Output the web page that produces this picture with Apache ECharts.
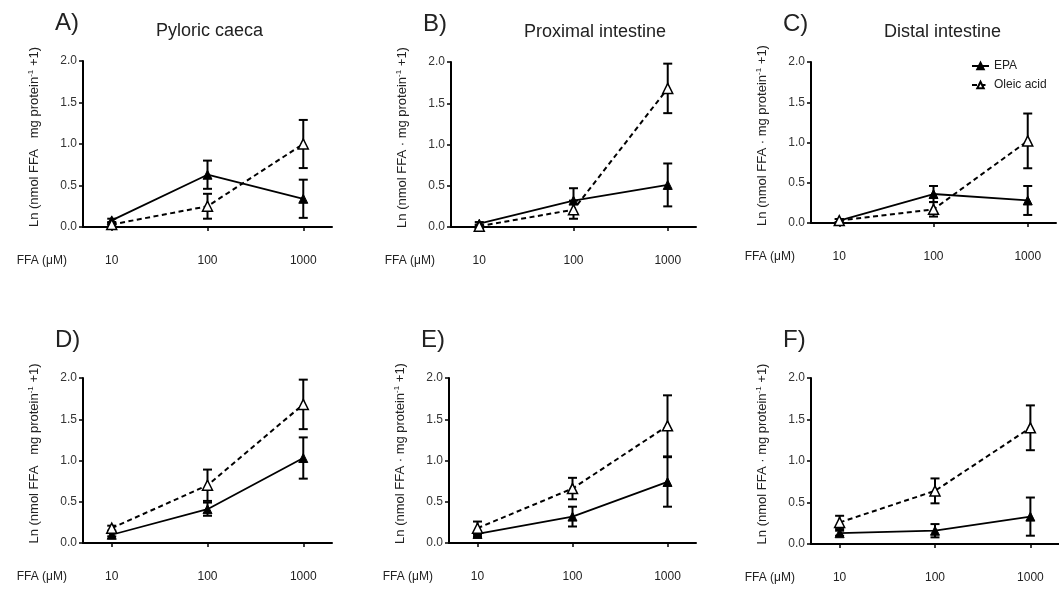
<!DOCTYPE html>
<html>
<head>
<meta charset="utf-8">
<script src="https://cdn.jsdelivr.net/npm/echarts@6/dist/echarts.min.js"></script>
<style>
html,body{margin:0;padding:0;background:#fff;}
#chart{width:1059px;height:590px;}
</style>
</head>
<body>
<div id="chart"></div>
<script>
// ---- data ----
const categories = ['10', '100', '1000'];
const yTicks = [0, 0.5, 1.0, 1.5, 2.0];
const panelLetters = ['A)', 'B)', 'C)', 'D)', 'E)', 'F)'];
const panelTitles = ['Pyloric caeca', 'Proximal intestine', 'Distal intestine', '', '', ''];
const seriesNames = ['EPA', 'Oleic acid'];

const epaA = [0.08, 0.63, 0.34];  const epaErrA = [0.02, 0.17, 0.23];
const oleA = [0.03, 0.25, 1.00];  const oleErrA = [0.02, 0.15, 0.29];
const epaB = [0.04, 0.32, 0.51];  const epaErrB = [0.02, 0.15, 0.26];
const oleB = [0.01, 0.21, 1.68];  const oleErrB = [0.02, 0.11, 0.30];
const epaC = [0.03, 0.36, 0.28];  const epaErrC = [0.02, 0.10, 0.18];
const oleC = [0.03, 0.17, 1.02];  const oleErrC = [0.02, 0.09, 0.34];
const epaD = [0.10, 0.41, 1.03];  const epaErrD = [0.02, 0.08, 0.25];
const oleD = [0.18, 0.70, 1.68];  const oleErrD = [0.03, 0.19, 0.30];
const epaE = [0.11, 0.32, 0.74];  const epaErrE = [0.03, 0.12, 0.30];
const oleE = [0.18, 0.66, 1.42];  const oleErrE = [0.08, 0.13, 0.37];
const epaF = [0.13, 0.16, 0.33];  const epaErrF = [0.03, 0.08, 0.23];
const oleF = [0.26, 0.64, 1.40];  const oleErrF = [0.08, 0.15, 0.27];

const epaVals = [epaA, epaB, epaC, epaD, epaE, epaF];
const epaErrs = [epaErrA, epaErrB, epaErrC, epaErrD, epaErrE, epaErrF];
const oleVals = [oleA, oleB, oleC, oleD, oleE, oleF];
const oleErrs = [oleErrA, oleErrB, oleErrC, oleErrD, oleErrE, oleErrF];

// ---- layout ----
const grids = [
  {left: 83,  top: 61,  width: 249, height: 166},
  {left: 451, top: 62,  width: 245, height: 165},
  {left: 811, top: 62,  width: 245, height: 161},
  {left: 83,  top: 378, width: 249, height: 165},
  {left: 449, top: 378, width: 247, height: 165},
  {left: 811, top: 378, width: 248, height: 166}
];
const dotNames = [false, true, true, false, true, true];

const FONT = '"Liberation Sans", Arial, Helvetica, sans-serif';
const TXT = '#222';

function renderErr(params, api) {
  const x = api.value(0), lo = api.value(1), hi = api.value(2);
  const pLo = api.coord([x, lo]);
  const pHi = api.coord([x, hi]);
  const w = 4.5;
  const st = {stroke: '#000', lineWidth: 2};
  return {
    type: 'group',
    children: [
      {type: 'line', shape: {x1: pLo[0], y1: pLo[1], x2: pHi[0], y2: pHi[1]}, style: st},
      {type: 'line', shape: {x1: pHi[0] - w, y1: pHi[1], x2: pHi[0] + w, y2: pHi[1]}, style: st},
      {type: 'line', shape: {x1: pLo[0] - w, y1: pLo[1], x2: pLo[0] + w, y2: pLo[1]}, style: st}
    ]
  };
}

const xAxes = [], yAxes = [], series = [], titles = [];
grids.forEach((g, i) => {
  xAxes.push({
    type: 'value', gridIndex: i, min: -0.3, max: 2.3,
    axisLine: {show: true, onZero: false, lineStyle: {color: '#000', width: 2}},
    axisTick: {show: true, length: 4, inside: false, customValues: [0, 1, 2], lineStyle: {color: '#000', width: 1.5}},
    axisLabel: {customValues: [0, 1, 2], margin: 28, fontSize: 12, color: TXT, fontFamily: FONT,
      formatter: v => categories[Math.round(v)]},
    splitLine: {show: false},
    name: 'FFA (\u03bcM)', nameLocation: 'start', nameGap: 16,
    nameTextStyle: {fontSize: 12, color: TXT, fontFamily: FONT, verticalAlign: 'top', padding: [28, 0, 0, 0]}
  });
  const nm = dotNames[i]
    ? 'Ln (nmol FFA \u00b7 mg protein{sup|-1} +1)'
    : 'Ln (nmol FFA   mg protein{sup|-1} +1)';
  yAxes.push({
    type: 'value', gridIndex: i, min: 0, max: 2, interval: 0.5,
    axisLine: {show: true, onZero: false, lineStyle: {color: '#000', width: 2}},
    axisTick: {show: true, length: 4, lineStyle: {color: '#000', width: 1.5}},
    axisLabel: {fontSize: 12, color: '#333', fontFamily: FONT, margin: 6, formatter: v => v.toFixed(1)},
    splitLine: {show: false},
    name: nm, nameLocation: 'middle', nameGap: 42,
    nameTextStyle: {fontSize: 13, color: TXT, fontFamily: FONT, padding: [0, 0, 0, 14],
      rich: {sup: {fontSize: 8, verticalAlign: 'top', padding: [0, 0, 6, 0], color: TXT, fontFamily: FONT}}}
  });
  titles.push({
    text: panelLetters[i], left: g.left - 33, top: g.top - 55,
    textStyle: {fontSize: 24, fontWeight: 'normal', color: TXT, fontFamily: FONT}
  });
  if (panelTitles[i]) {
    titles.push({
      text: panelTitles[i], left: g.left + 68, top: g.top - 44,
      textStyle: {fontSize: 18, fontWeight: 'normal', color: TXT, fontFamily: FONT}
    });
  }
  const epaData = categories.map((c, j) => [j, epaVals[i][j]]);
  const oleData = categories.map((c, j) => [j, oleVals[i][j]]);
  const epaErrData = categories.map((c, j) => [j, epaVals[i][j] - epaErrs[i][j], epaVals[i][j] + epaErrs[i][j]]);
  const oleErrData = categories.map((c, j) => [j, oleVals[i][j] - oleErrs[i][j], oleVals[i][j] + oleErrs[i][j]]);
  series.push({
    type: 'custom', name: 'EPA err', xAxisIndex: i, yAxisIndex: i, renderItem: renderErr,
    data: epaErrData, encode: {x: 0, y: [1, 2]}, z: 1, silent: true
  });
  series.push({
    type: 'custom', name: 'Oleic err', xAxisIndex: i, yAxisIndex: i, renderItem: renderErr,
    data: oleErrData, encode: {x: 0, y: [1, 2]}, z: 1, silent: true
  });
  series.push({
    type: 'line', name: seriesNames[0], xAxisIndex: i, yAxisIndex: i, data: epaData,
    symbol: 'triangle', symbolSize: 9, z: 3,
    lineStyle: {color: '#000', width: 1.8, type: 'solid'},
    itemStyle: {color: '#000', borderColor: '#000', borderWidth: 1},
    animation: false
  });
  series.push({
    type: 'line', name: seriesNames[1], xAxisIndex: i, yAxisIndex: i, data: oleData,
    symbol: 'triangle', symbolSize: 10, z: 4,
    lineStyle: {color: '#000', width: 2, type: [5, 3.5]},
    itemStyle: {color: '#fff', borderColor: '#000', borderWidth: 1.5},
    animation: false
  });
});

const chart = echarts.init(document.getElementById('chart'), null, {renderer: 'canvas'});
chart.setOption({
  animation: false,
  backgroundColor: '#fff',
  title: titles,
  grid: grids.map(g => Object.assign({containLabel: false}, g)),
  xAxis: xAxes,
  yAxis: yAxes,
  legend: {
    data: seriesNames, orient: 'vertical', left: 966, top: 55,
    itemWidth: 17, itemHeight: 8, itemGap: 7,
    textStyle: {fontSize: 12, color: TXT, fontFamily: FONT}
  },
  series: series
});
</script>
</body>
</html>
